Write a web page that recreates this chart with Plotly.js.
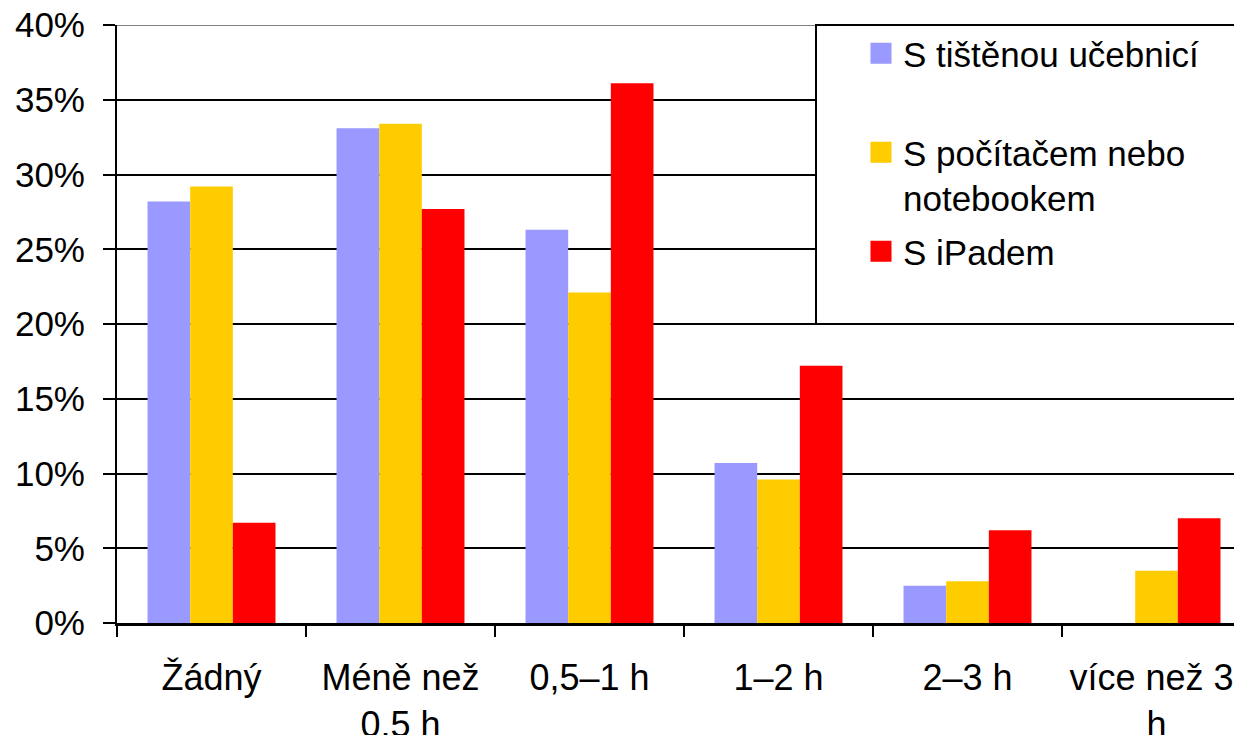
<!DOCTYPE html>
<html>
<head>
<meta charset="utf-8">
<script src="https://cdn.plot.ly/plotly-3.0.1.min.js"></script>
<style>html,body{margin:0;padding:0;background:#fff;}#chart{width:1234px;height:735px;}</style>
</head>
<body>
<div id="chart"></div>
<script>
const categories = ["Žádný", "Méně než<br>0.5 h", "0,5–1 h", "1–2 h", "2–3 h", "více než 3\u00a0<br>h"];
const seriesNames = ["S tištěnou učebnicí", "S počítačem nebo<br>notebookem", "S iPadem"];
const printed = [28.2, 33.1, 26.3, 10.7, 2.5, 0];
const computer = [29.2, 33.4, 22.1, 9.6, 2.8, 3.5];
const ipad = [6.7, 27.7, 36.1, 17.2, 6.2, 7.0];
const yTicks = [0, 5, 10, 15, 20, 25, 30, 35, 40];
const colors = ["#9999FF", "#FFCC00", "#FF0000"];
const values = [printed, computer, ipad];

const FONT = "Liberation Sans, Arial, sans-serif";
const traces = [];
values.forEach((v, i) => {
  traces.push({
    type: "bar", x: categories, y: v, name: seriesNames[i],
    marker: {color: colors[i], line: {width: 0}},
    showlegend: false, hoverinfo: "skip"
  });
});
// legend-only entries
const legendTexts = [seriesNames[0] + "<br>\u00a0", seriesNames[1], seriesNames[2] + "<br>\u00a0"];
values.forEach((v, i) => {
  traces.push({
    type: "scatter", mode: "markers", x: [null], y: [null], name: legendTexts[i],
    legendgroup: "g" + i,
    marker: {symbol: "square", size: 16, color: colors[i], line: {color: colors[i], width: 5}},
    showlegend: true, hoverinfo: "skip"
  });
});

const W = 1117, H = 598, L = 117, T = 25;
const layout = {
  width: 1234, height: 735,
  margin: {l: L, r: 0, t: T, b: 112, autoexpand: false},
  paper_bgcolor: "#fff", plot_bgcolor: "#fff",
  font: {family: FONT, size: 35, color: "#000"},
  barmode: "group", bargap: 0.323, bargroupgap: 0,
  xaxis: {
    type: "category", range: [-0.5, 5.41],
    tickson: "boundaries", ticks: "outside", ticklen: 11, tickwidth: 2, tickcolor: "#000",
    showline: true, linecolor: "#000", linewidth: 3,
    showgrid: false, zeroline: false,
    tickfont: {family: FONT, size: 36, color: "#000"},
    ticklabelstandoff: 21
  },
  yaxis: {
    range: [0, 40], tickvals: yTicks, ticktext: yTicks.map(t => t + "%"),
    ticks: "outside", ticklen: 12, tickwidth: 2, tickcolor: "#000",
    showline: true, linecolor: "#000", linewidth: 2,
    showgrid: true, gridcolor: "#000", gridwidth: 2, zeroline: false,
    tickfont: {family: FONT, size: 35, color: "#000"},
    ticklabelstandoff: 11
  },
  legend: {
    x: (859 - L) / W, xanchor: "left", y: 1 + 1 / H, yanchor: "top",
    borderwidth: 0, bgcolor: "rgba(0,0,0,0)",
    font: {family: FONT, size: 35, color: "#000"},
    valign: "top", itemwidth: 34, traceorder: "grouped", tracegroupgap: 5
  },
  shapes: [
    {type: "line", xref: "paper", yref: "y", x0: 0, x1: 1, y0: 40, y1: 40, line: {color: "#808080", width: 2}},
    {type: "rect", xref: "paper", yref: "paper", layer: "above",
     x0: (816 - L) / W, x1: (1240 - L) / W, y0: 1 - (324 - T) / H, y1: 1,
     fillcolor: "#fff", line: {color: "#000", width: 2}}
  ]
};

Plotly.newPlot("chart", traces, layout, {displayModeBar: false, staticPlot: true});
</script>
</body>
</html>
